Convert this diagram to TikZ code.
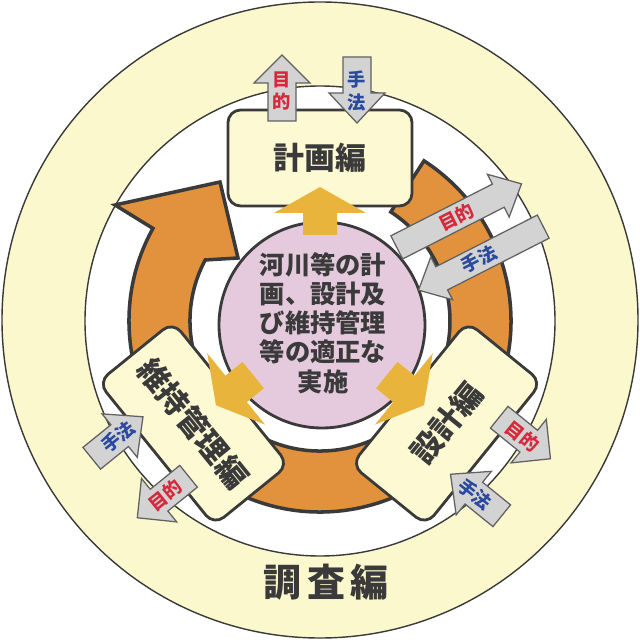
\documentclass[tikz,border=0pt]{standalone}
\usepackage{fontspec}
\newfontfamily\jp{Noto Sans CJK JP}

\definecolor{cream}{HTML}{FCF8CD}
\definecolor{boxfill}{HTML}{FDF9D2}
\definecolor{orangeband}{HTML}{E2923D}
\definecolor{goldarrow}{HTML}{E9B43C}
\definecolor{pinkc}{HTML}{E5CADE}
\definecolor{greyarrow}{HTML}{D3D3D3}
\definecolor{inkdark}{HTML}{3A3A3A}
\definecolor{mokred}{HTML}{D42A3C}
\definecolor{shublue}{HTML}{2A4AA0}

\tikzset{
  ring/.style={draw=inkdark, line width=1pt},
  bandarrow/.style={fill=orangeband, draw=inkdark, line width=2.5pt, line join=miter},
  henbox/.style={draw=inkdark, fill=boxfill, line width=2pt, rounded corners=9pt,
    minimum width=4.6cm, minimum height=2.4cm, text=inkdark,
    font=\jp\bfseries\fontsize{22}{26}\selectfont},
  greyarr/.style={fill=greyarrow, draw=inkdark!80, line width=0.9pt, line join=miter},
  goldarr/.style={fill=goldarrow},
  lbl/.style={font=\jp\bfseries\fontsize{13}{16}\selectfont, align=center, inner sep=0pt},
  mok/.style={lbl, text=mokred},
  shu/.style={lbl, text=shublue},
}

\begin{document}
\begin{tikzpicture}[scale=0.025]
    \useasboundingbox (-320,-319) rectangle (320,321);

    % rings
    \draw[ring, fill=cream] (0,1) circle[radius=318];
    \draw[ring, fill=white] (0,0) circle[radius=235];

    % cycle arrow
    \draw[bandarrow] (57:191) arc[start angle=57, end angle=-209, radius=191]
        -- (-205,116) -- (-100,139) -- (-82,63) -- (152:130)
        arc[start angle=-208, end angle=57, radius=130] -- cycle;

    % centre
    \draw[draw=inkdark, line width=2pt, fill=pinkc] (2,-4) circle[radius=103];
    \node[text=inkdark, align=center, inner sep=0pt,
        font=\jp\bfseries\fontsize{18}{20.8}\selectfont] (jisshi) at (3,-2)
        {河川等の計\\画、設計及\\び維持管理\\等の適正な\\実施};

    \foreach \rt/\tr/\lr/\nm/\hen/\mt/\st in {0/0/0/keikaku/計画編/{目\\的}/{手\\法},
        -129/51/-39/sekkei/設計編/目的/手法,
        129/-51/39/iji/維持管理編/目的/手法} {
    \begin{scope}[rotate=\rt]
        \node[henbox, rotate=\tr] (box-\nm) at (0,163) {\hen};
        \draw[greyarr] (-52,200) -- (-52,238) -- (-66,238) -- (-38,266)
            -- (-10,238) -- (-24,238) -- (-24,200) -- cycle;
        \draw[greyarr] (23,264) -- (23,228) -- (9,228) -- (37,198)
            -- (65,228) -- (51,228) -- (51,264) -- cycle;
        \node[mok, rotate=\lr] (mok-\nm) at (-38,230) {\mt};
        \node[shu, rotate=\lr] (shu-\nm) at (37,230) {\st};
        \fill[goldarr] (-17,86) -- (-17,108) -- (-46,108) -- (0,134)
            -- (46,108) -- (17,108) -- (17,86) -- cycle;
    \end{scope}
    }

    % long arrows
    \begin{scope}[shift={(150,84)}, rotate=27]
        \draw[greyarr] (-70,11) -- (44,11) -- (44,0) -- (70,24)
            -- (44,48) -- (44,37) -- (-70,37) -- cycle;
        \draw[greyarr] (70,-37) -- (-44,-37) -- (-44,-48) -- (-70,-24)
            -- (-44,0) -- (-44,-11) -- (70,-11) -- cycle;
        \node[mok, rotate=27] (mok-long) at (-3,24) {目的};
        \node[shu, rotate=27] (shu-long) at (-2,-24) {手法};
    \end{scope}

    \node[text=inkdark, font=\jp\bfseries\fontsize{27}{30}\selectfont] (chousa) at (6,-261)
        {調\hspace{4pt}査\hspace{4pt}編};

\end{tikzpicture}
\end{document}
